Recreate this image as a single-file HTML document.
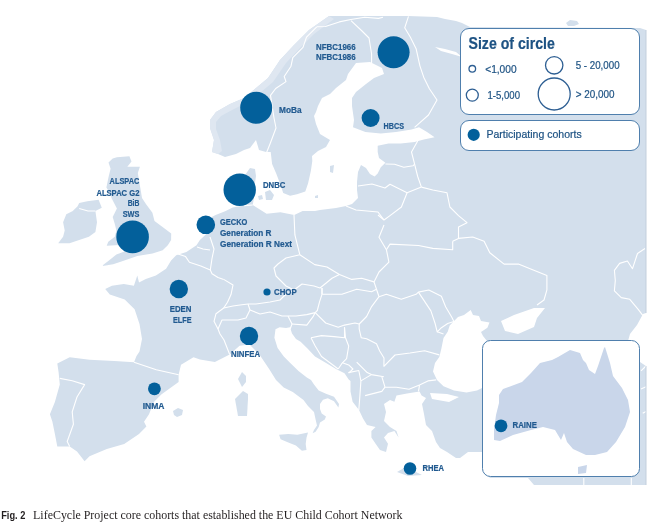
<!DOCTYPE html>
<html><head><meta charset="utf-8">
<style>
html,body{margin:0;padding:0;background:#fff;width:650px;height:526px;overflow:hidden}
svg{display:block;filter:blur(0.35px)}
.lbl{font-family:"Liberation Sans",sans-serif;font-weight:bold;fill:#215a90;stroke:#215a90;stroke-width:0.2}
.lg{font-family:"Liberation Sans",sans-serif;fill:#1d5283;stroke:#1d5283;stroke-width:0.22}
</style></head><body>
<svg width="650" height="526" viewBox="0 0 650 526">
<rect width="650" height="526" fill="#fff"/>
<g fill="#d3dfec">
<path d="M329,16 L408,16 L437,17 L445,19 L456,21 L462,23 L470,27 L640,28 L646,30 L646,313 L643,314 L637,325 L630,334 L628,341 L640,362 L646,366 L646,485 L534,485 L528,478 L490,478 L482,470 L482,452 L478,452 L468,452 L460,458 L456,458 L447,452 L440,448 L436,442 L432,431 L426,425 L424,414 L422,404 L426,398 L421.6,395.6 L419.5,391.4 L407,393.5 L396.5,395.6 L394.4,401.8 L390,400 L384,404 L386,412 L384,421 L390,427 L396.5,431 L398.6,437.4 L394.4,431 L388,433 L384,437.4 L388,443.7 L386,452 L380,450 L375.6,443.7 L371.4,437.4 L371.4,431 L375.6,427 L367,425 L363,418.6 L359,410 L352.6,401.8 L350.5,391.4 L350.5,381 L348.7,379.5 L344.5,373.2 L336,369 L325.7,362.8 L315,356.5 L307,348 L300.6,341.8 L296,339 L292,333.5 L290,327.2 L286,328 L279.6,327.2 L275.5,329.3 L274.4,337.7 L277.6,348 L283.8,356.5 L290,362.8 L298.5,371 L306.8,377.4 L311,380 L314,384.6 L318.7,390.6 L326,393.7 L334,396.7 L339,404 L338.4,407.4 L334,401.3 L327.8,398.3 L323,399.8 L320,404 L320,409 L321.7,413.5 L326,416.5 L324.8,419.5 L320,422.6 L318.7,427 L315.6,431.7 L312.6,433.2 L314,430 L317,425.6 L315.6,419.5 L314,412 L308,406 L303.5,400 L292.8,392 L283.7,387.6 L276,380 L269.3,369.3 L259.4,354.5 L249.5,344.6 L239.6,345.8 L229.7,354.5 L214.9,361.9 L200,359.4 L193.5,357.3 L181,364.8 L178.6,374.7 L178.6,382 L161.3,394.5 L153.9,401.9 L149,414.3 L144,421.7 L146.4,426.6 L139,434 L124.2,444 L106.8,449 L89.5,456.3 L84.6,461.3 L77,451.4 L69.7,446.4 L57.3,446.4 L54.9,434 L52.4,421.7 L49.9,414.3 L54.9,401.9 L59.8,384.6 L58.6,372.2 L57.3,363.5 L69.7,357.3 L89.5,359.8 L114.3,361 L134,362.3 L136.5,356 L139.5,351.4 L142,339 L139.5,324 L134.6,309.3 L124.7,299.4 L109.8,294.5 L105.2,289.1 L111.9,285.8 L123.8,284.1 L133.9,285.8 L137.3,275.6 L139,282.4 L145.8,279 L155.9,275.6 L166.1,268.8 L171.1,260.4 L176.2,255.3 L186.4,251.9 L196.5,245.2 L199.9,240.1 L204.2,236 L208,232.2 L210,225 L211.8,217 L215.6,215.1 L225.1,211.3 L232.7,207.5 L244,205.6 L242,195 L241,185 L245,175 L250,168 L255,169 L256,176 L254,190 L254,198 L252.7,205 L266.6,213.7 L280.4,212.3 L294.3,215.1 L302.6,210.9 L315,210.9 L320,210 L336,208 L346,206 L352,204 L358,198 L357,190 L357,182 L358,172 L361,165 L366,168 L370,174 L374.6,176.5 L377.7,173.5 L380.8,167.3 L385.4,162.7 L379,158 L377.7,152 L377.7,145.8 L388.5,143.5 L400.8,143.5 L414.6,142 L423.8,139.6 L434.6,137.3 L427,132 L419,127.3 L411.5,129.6 L396,132 L380.8,133.5 L365.4,132 L353,127.3 L354,120 L352,106 L352,98 L356,92 L366,84 L374,78 L384,74 L382,68 L370,62 L356,63 L348,74 L346,80 L336,88 L330,94 L322,98 L318,106 L316,112 L314,116 L316,124 L320,134 L330,140 L326,147 L318,151 L312,156 L312.3,161.1 L310.9,170.8 L308.1,183.2 L305.3,191.6 L297,194.3 L290.1,195.7 L283.2,192.9 L280.4,184.6 L276.2,173.5 L272.1,163.9 L270.7,152 L266,152 L259,150 L256,140 L250,148 L244,150 L236,154 L225,157 L218,154 L212,152 L214,140 L210,128 L210,120 L216,112 L230,104 L244,98 L256,88 L268,78 L280,60 L294,45 L309,30 Z"/>
<path d="M112.7,158.4 L116.9,157.3 L129.4,156.3 L131.5,161.5 L127.3,166.7 L139.9,166.7 L137.8,173 L142,198 L146.1,204.3 L152.4,212.7 L154.5,221 L162.9,227.3 L171.2,233.6 L171.1,240.1 L167.8,245.2 L162.7,250.2 L152.5,253.6 L137.3,256 L122.9,261.1 L113.2,264.3 L101.8,266 L108.3,261.1 L116.4,254.6 L124.5,251.4 L122.9,248.2 L119.6,245 L106.7,245.7 L108.3,241.7 L114.8,236.8 L116.4,230.4 L114.8,223.9 L112.7,216.9 L116.9,208.5 L111.5,198.1 L110.6,193.9 L106.4,187.6 L108.5,177.2 L110.6,168.8 L108.5,162.5 Z"/>
<path d="M79.2,202.9 L87.3,201.3 L98.6,199.7 L101.8,207.8 L95.4,211 L97,222.3 L95.4,232 L88.9,236.8 L79.2,240.1 L69.5,243.3 L58.2,243.3 L63.1,236.8 L64.7,230.4 L63.1,222.3 L66.3,214.2 L72.8,211 L77.6,206.2 Z"/>
<path d="M242,372 L246,376 L246,382 L242,387 L238,379 Z"/>
<path d="M243,391 L248,394 L248,399 L247,416 L238,416 L235,399 Z"/>
<path d="M279.1,434.8 L288.3,434 L297.4,434.8 L308,432.5 L306.5,437.8 L305.7,443.9 L306.5,450 L301.9,450.7 L295.9,445.4 L288.3,442.4 L280.6,439.3 Z"/>
<path d="M397,472 L404,468 L412,470 L422,475 L408,476 Z"/>
<path d="M173,411 L178,408 L183,410 L182,415 L177,417 L174,415 Z"/>
<path d="M330,166 L334,165 L333,173 L330,172 Z"/>
<path d="M566,23 L570,20 L577,21 L579,24 L574,26 L568,26 Z"/>
<path d="M265,192 L270,190 L274,195 L272,200 L266,200 Z"/>
<path d="M258,196 L262,195 L263,199 L259,200 Z"/>
<path d="M315,196 L318,195 L318,198 L315,198 Z"/>
</g>
<g fill="#dfe7f1">
<path d="M329,16 L309,30 L294,45 L280,60 L268,78 L256,88 L244,98 L230,104 L216,112 L210,120 L210,128 L214,140 L212,152 L218,154 L222,151 L220,140 L216,129 L216,122 L221,116 L234,109 L248,102 L261,92 L273,82 L286,63 L299,49 L314,34 L334,19 Z"/>
</g>
<g fill="#fff">
<path d="M449.7,325.6 L458,317 L464,315 L470.7,310 L473,315 L479,316 L481,321 L489.5,322.4 L487.4,327.7 L481,332 L483,336 L487,341 L560,341 L560,395 L482,388 L477,390.4 L466.5,392.5 L454,390.4 L443.5,386.2 L437,380 L433,371.6 L435,363 L439.3,357 L441.4,348.6 L443.5,338 L447.7,331.8 Z"/>
<path d="M501,321 L514,315 L534,308 L545,308 L537,318 L534,327 L518,334 L505,331 Z"/>
<path d="M430,393 L447,394 L459,397 L449,402 L432,399 Z"/>
<path d="M435,47 L445,49 L456,52 L462,57 L452,54 L441,51 Z"/>
</g>
<g fill="none" stroke="#fff" stroke-width="1.1" stroke-linejoin="round">
<path d="M316.8,26.8 L306.5,37.1 L303,47.4 L292.8,57.7 L291,66.2 L284.2,76.5 L286,81.6 L275.7,88.5 L270.5,95.3 L274,118 L276,128 L270,144 L266,154"/>
<path d="M316.8,26.8 L325.4,26.5 L339.3,21.9 L350.8,19.5 L364.7,17.2 L378.5,18.4 L383,17.2"/>
<path d="M351,20.7 L362,31 L369,38 L371.6,54 L371.6,63"/>
<path d="M408.5,16.4 L404.7,27.8 L410.4,37.3 L416.1,48.7 L419.9,65.8 L423.7,77.2 L429.4,88.7 L437,100 L428.5,115 L414.6,127.3"/>
<path d="M346,206 L356,210 L378,212 L384,220"/>
<path d="M294,215 L294.9,234.9 L299.8,254.7"/>
<path d="M299.8,254.7 L314.7,264.6 L327,267 L339.4,274.5 L351.8,279.4 L361.7,278.2 L374,281.9"/>
<path d="M374,281.9 L379,272 L388.9,262.1 L386.4,249.7 L379,237.3 L384,225"/>
<path d="M322,288 L322,294.3 L341.9,294.3 L356.7,289.3 L371.6,291.8 L376.5,289.3 L374,281.9"/>
<path d="M376.5,289.3 L379,296.7 L371.6,306.6 L366.6,316.5 L359.2,324"/>
<path d="M315.2,312.6 L325.7,323 L338.2,327.2 L344.5,325.1 L355,323 L359.2,324"/>
<path d="M379,296.7 L386.4,294.3 L401.3,299.2 L416.1,294.3 L418.4,292.1 L428.8,290 L441.4,296.3 L445.6,306.7 L451.8,317.2 L453.9,321.4 L447.7,323.5 L441.4,327.7 L437.2,331.8 L435.1,323.5 L430.9,310.9 L422.6,298.4 L418.4,292.1"/>
<path d="M437.2,331.8 L443.5,333.9"/>
<path d="M359.2,324 L359.2,329 L361.2,337.7 L366.6,338.8 L376.5,343.8 L379.7,351 L384,358 L383.9,366.3 L395,355 L410,353 L424.6,350.7 L439.3,354.9"/>
<path d="M381.8,376.7 L385,387.2 L396.5,387.2 L409,389.3 L419.5,385.1 L427.9,380.9 L436.2,379.9"/>
<path d="M419.5,385.1 L418.5,391.4"/>
<path d="M311,337.7 L315.2,346 L321.5,356.5 L329.9,362.8 L338.2,369"/>
<path d="M311,337.7 L321.5,335.6 L334,336.6 L344.5,337.7 L344.5,327.2"/>
<path d="M344.5,327.2 L345.5,337.7 L348.7,346 L346.6,358.6 L342.4,362.8 L338.2,369"/>
<path d="M342.4,362.8 L348.7,364.9 L352.9,369 L348.7,373.2"/>
<path d="M356.7,362.1 L367.2,372.6 L371.4,374.6 L383.9,376.7"/>
<path d="M348.4,372.6 L358.8,370.5 L360.9,380.9 L359.9,395.6 L358.8,410.2"/>
<path d="M360.9,380.9 L371.4,374.6"/>
<path d="M365.1,395.6 L381.8,391.4 L385,387.2"/>
<path d="M244,205.6 L252.7,205"/>
<path d="M134,362.3 L156.3,369.7 L178.6,374.7"/>
<path d="M59.8,378.4 L72.2,380.8 L84.6,384.6 L77,397 L72.2,411.8 L73.4,424.2 L67.2,441.5 L69.7,446.4"/>
<path d="M79.2,208.5 L88,211 L95.4,211"/>
<path d="M645,248.5 L637.5,253.5 L632.5,268.7 L627.4,261 L619.6,263.4 L614.4,270.3 L615.3,280.5 L614.4,290.8 L621.3,297.6 L629.8,299.3 L638.4,309.6 L643.5,316.4"/>
<path d="M641,370.8 L646,366"/>
<path d="M641,389 L646,386.8"/>
<path d="M642.7,413.3 L646,411.4"/>
<path d="M583.8,478 L583.8,485.5"/>
<path d="M631.3,478 L631.3,485"/>
<path d="M178,254 L185.6,256.6 L189.4,262.3 L200.8,266.1 L210.3,270 L212,273.7 L218,277.5 L223.7,279.4"/>
<path d="M210,237 L214,249 L212,258.5 L210.3,270"/>
<path d="M197,247 L203,249 L210,250"/>
<path d="M223.7,279.4 L233,285 L231,294.6 L227.5,302.2 L223.7,308 L216,313.7 L214,321.3 L218,329 L220,334 L224,340 L229.7,354.5"/>
<path d="M223.7,308 L233,306 L240,305 L248,304 L256,304 L270,302 L280,300 L284,296 L294,290"/>
<path d="M218,329 L222,320 L238,320 L246,318 L250,310 L248,304"/>
<path d="M250,310 L260,314 L270,312 L282,316 L288,316"/>
<path d="M299.8,254.7 L286,258 L278,264 L274,268 L276,276 L286,286 L294,290"/>
<path d="M294,290 L302,284 L314,286 L320,288 L332,278.2 L339.4,274.5"/>
<path d="M322,288 L322,294.3"/>
<path d="M322,294.3 L319.6,301.7 L317.3,310.5 L315.2,312.6 L306.8,314.6 L296,316 L288,316"/>
<path d="M288,316 L292,324 L290,329.3"/>
<path d="M292,324 L306.8,325.1 L313.1,316.7 L315.2,312.6"/>
<path d="M417.7,141 L411.5,152 L414.6,164.2 L417.7,176.5 L421.4,187.1"/>
<path d="M421.4,187.1 L432.8,190 L447,192.8 L449.9,207 L458.5,215.6 L467,222.7 L458.5,227 L458.5,238.4 L452.7,241.3"/>
<path d="M386.4,249.7 L390,244.1 L418.5,245.5 L432.8,248.4 L452.7,249.8 L452.7,241.3"/>
<path d="M458.5,238.4 L472.7,237 L484.1,241.3 L489.8,252.7 L504.1,264.1 L518.4,264.1 L532.6,269.8 L546.9,275.5 L546.9,289.8 L544,300 L537,305"/>
<path d="M358,186 L372,184 L385,188 L390,184.2 L407.1,192.8 L421.4,187.1"/>
<path d="M385.4,164 L394.6,164.2 L403.8,167.3 L413,165.8 L414.6,164.2"/>
<path d="M407.1,192.8 L401.4,207 L390,215.6 L384,220 L378,215"/>
</g>
<path d="M646,30 L646,313 M646,366 L646,485" stroke="#c3cfdd" stroke-width="1" fill="none"/>
<rect x="482.5" y="340.5" width="157" height="136" rx="8" ry="8" fill="#fff" stroke="#4f7fad" stroke-width="1"/>
<g fill="#c9d6ea">
<path d="M499,395 L503,389 L522,382 L531,373 L540,363 L552,360 L558,357 L570,350 L580,353 L583,360 L586,363 L589,370 L595,374 L598,366 L604,348 L605,347 L610,363 L613,376 L622,388 L628,400 L630,412 L625,427 L616,442 L607,452 L595,455 L586,455 L573,449 L567,442 L564,433 L561,440 L555,430 L543,427 L531,430 L513,435 L500,441 L494,440 L494,430 L496,415 L499,403 Z"/><path d="M578,467 L587,465 L586,473 L578,474 Z"/>
</g>
<rect x="460.5" y="28.5" width="179" height="86" rx="8.5" ry="8.5" fill="#fff" stroke="#4f7fad" stroke-width="1"/>
<rect x="460.5" y="120.5" width="179" height="30" rx="8.5" ry="8.5" fill="#fff" stroke="#4f7fad" stroke-width="1"/>
<text class="lg" x="468.5" y="49.3" font-size="16" font-weight="bold" textLength="86.3" lengthAdjust="spacingAndGlyphs">Size of circle</text>
<g fill="none" stroke="#2e5f93" stroke-width="1.3">
<circle cx="472.3" cy="68.8" r="3.3"/>
<circle cx="472.3" cy="95.1" r="6"/>
<circle cx="554.2" cy="65.3" r="8.7"/>
<circle cx="554.2" cy="94" r="16"/>
</g>
<text class="lg" x="485.2" y="72.7" font-size="11" textLength="31.4" lengthAdjust="spacingAndGlyphs">&lt;1,000</text>
<text class="lg" x="487.5" y="99.2" font-size="11" textLength="32.5" lengthAdjust="spacingAndGlyphs">1-5,000</text>
<text class="lg" x="575.7" y="68.8" font-size="11" textLength="43.9" lengthAdjust="spacingAndGlyphs">5 - 20,000</text>
<text class="lg" x="575.7" y="97.9" font-size="11" textLength="38.8" lengthAdjust="spacingAndGlyphs">&gt; 20,000</text>
<circle cx="473.7" cy="134.8" r="6.1" fill="#03609b"/>
<text class="lg" x="486.4" y="138.4" font-size="11.4" textLength="95.3" lengthAdjust="spacingAndGlyphs">Participating cohorts</text>
<g fill="#03609b">
<circle cx="393.6" cy="52.3" r="16"/>
<circle cx="256.2" cy="107.8" r="16"/>
<circle cx="370.6" cy="118" r="9"/>
<circle cx="239.7" cy="189.7" r="16.2"/>
<circle cx="132.6" cy="236.9" r="16.3"/>
<circle cx="205.8" cy="224.8" r="9.3"/>
<circle cx="178.8" cy="289" r="9.2"/>
<circle cx="267" cy="292" r="3.6"/>
<circle cx="249" cy="335.9" r="9.2"/>
<circle cx="154.4" cy="388.8" r="6.4"/>
<circle cx="410" cy="468.5" r="6.3"/>
<circle cx="501" cy="425.8" r="6.4"/>
</g>
<g class="lbl" font-size="8.4">
<text x="316" y="49.9" textLength="39.6" lengthAdjust="spacingAndGlyphs">NFBC1966</text>
<text x="316" y="60.3" textLength="39.6" lengthAdjust="spacingAndGlyphs">NFBC1986</text>
<text x="279" y="112.6" textLength="22.5" lengthAdjust="spacingAndGlyphs">MoBa</text>
<text x="383.6" y="128.8" textLength="20.4" lengthAdjust="spacingAndGlyphs">HBCS</text>
<text x="263" y="187.7" textLength="22.4" lengthAdjust="spacingAndGlyphs">DNBC</text>
<text x="109.6" y="184.4" textLength="29.8" lengthAdjust="spacingAndGlyphs">ALSPAC</text>
<text x="96.4" y="195.7" textLength="43" lengthAdjust="spacingAndGlyphs">ALSPAC G2</text>
<text x="127.7" y="206.1" textLength="11.7" lengthAdjust="spacingAndGlyphs">BiB</text>
<text x="122.7" y="217.2" textLength="16.7" lengthAdjust="spacingAndGlyphs">SWS</text>
<text x="220" y="224.9" textLength="27.4" lengthAdjust="spacingAndGlyphs">GECKO</text>
<text x="220" y="235.7" textLength="51.4" lengthAdjust="spacingAndGlyphs">Generation R</text>
<text x="220" y="246.7" textLength="72" lengthAdjust="spacingAndGlyphs">Generation R Next</text>
<text x="274" y="294.5" textLength="22.7" lengthAdjust="spacingAndGlyphs">CHOP</text>
<text x="169.7" y="311.6" textLength="21.8" lengthAdjust="spacingAndGlyphs">EDEN</text>
<text x="172.9" y="322.7" textLength="18.6" lengthAdjust="spacingAndGlyphs">ELFE</text>
<text x="231" y="356.7" textLength="29.1" lengthAdjust="spacingAndGlyphs">NINFEA</text>
<text x="142.7" y="409.3" textLength="21.8" lengthAdjust="spacingAndGlyphs">INMA</text>
<text x="422.6" y="471.3" textLength="21.5" lengthAdjust="spacingAndGlyphs">RHEA</text>
<text x="512.6" y="427.5" textLength="24.3" lengthAdjust="spacingAndGlyphs">RAINE</text>
</g>
<text x="1.2" y="518.8" font-family="Liberation Sans" font-weight="bold" font-size="11" fill="#231f20" textLength="24.2" lengthAdjust="spacingAndGlyphs">Fig. 2</text>
<text x="33.1" y="518.9" font-family="Liberation Serif" font-size="12" fill="#231f20" textLength="369.4" lengthAdjust="spacingAndGlyphs">LifeCycle Project core cohorts that established the EU Child Cohort Network</text>
</svg>
</body></html>
